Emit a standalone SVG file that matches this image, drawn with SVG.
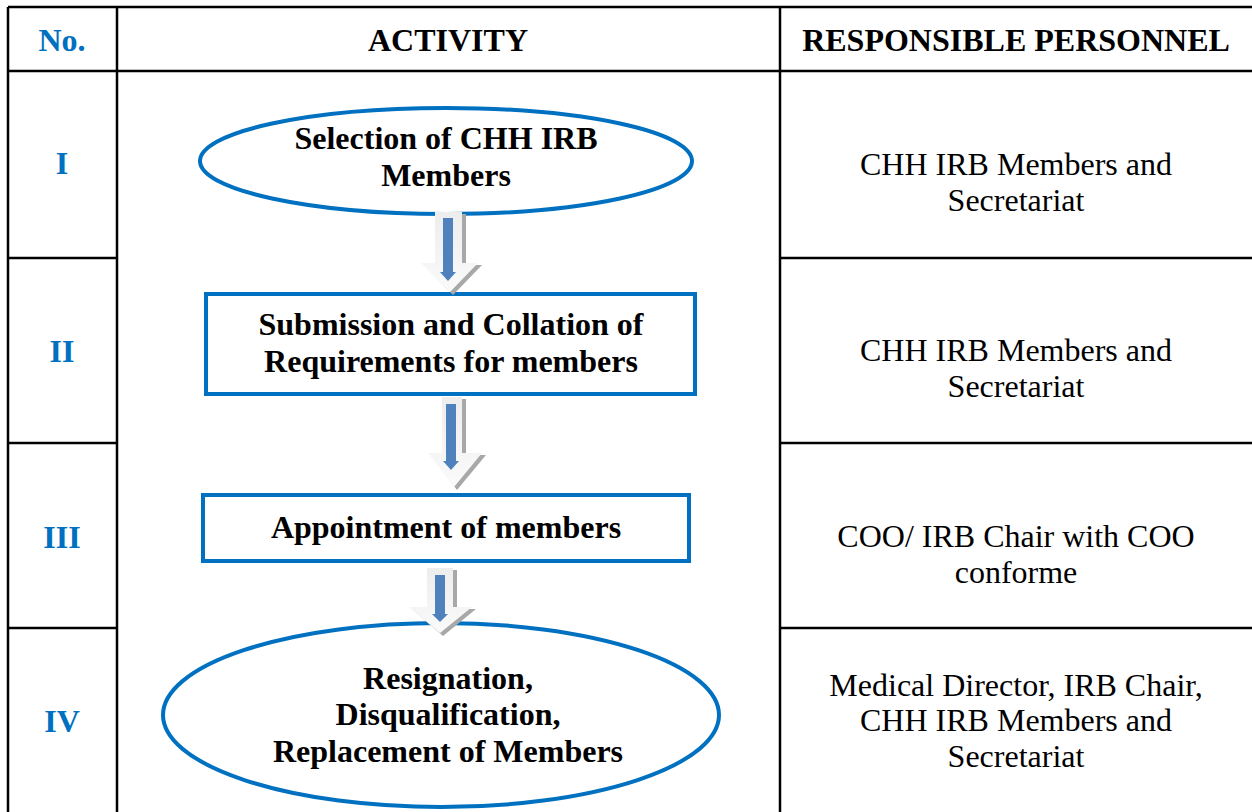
<svg xmlns="http://www.w3.org/2000/svg" width="1252" height="812" viewBox="0 0 1252 812">
  <style>
    text { font-family: 'Liberation Serif', 'DejaVu Serif', serif; font-size: 32px; text-anchor: middle; }
    .grid { stroke: #000; stroke-width: 2.5; fill: none; }
    .hdr { font-weight: bold; fill: #000; }
    .num { font-weight: bold; fill: #0070C0; }
    .act { font-weight: bold; fill: #000; }
    .per { fill: #000; }
    .shape { fill: #fff; stroke: #0070C0; stroke-width: 4; }
    .arr-shadow { fill: #A8A8A8; }
    .arr-body { fill: url(#arrFill); }
    .arr-core { fill: #4F81BD; }
  </style>
  <defs>
    <linearGradient id="arrFill" x1="0" y1="0" x2="0" y2="1">
      <stop offset="0" stop-color="#EDEDED"/>
      <stop offset="1" stop-color="#FAFAFA"/>
    </linearGradient>
  </defs>

  <rect x="0" y="0" width="1252" height="812" fill="#fff"/>

  <!-- table grid -->
  <g id="table">
    <line class="grid" x1="8" y1="7" x2="1252" y2="7"/>
    <line class="grid" x1="8" y1="71" x2="1252" y2="71"/>
    <line class="grid" x1="8" y1="7" x2="8" y2="812"/>
    <line class="grid" x1="117" y1="7" x2="117" y2="812"/>
    <line class="grid" x1="780" y1="7" x2="780" y2="812"/>
    <line class="grid" x1="8" y1="258" x2="117" y2="258"/>
    <line class="grid" x1="8" y1="443" x2="117" y2="443"/>
    <line class="grid" x1="8" y1="628" x2="117" y2="628"/>
    <line class="grid" x1="780" y1="258" x2="1252" y2="258"/>
    <line class="grid" x1="780" y1="443" x2="1252" y2="443"/>
    <line class="grid" x1="780" y1="628" x2="1252" y2="628"/>
  </g>

  <!-- header row -->
  <g id="header">
    <text class="num" x="62" y="51">No.</text>
    <text class="hdr" x="448" y="51">ACTIVITY</text>
    <text class="hdr" x="1016" y="51">RESPONSIBLE PERSONNEL</text>
  </g>

  <!-- step numbers -->
  <g id="numbers">
    <text class="num" x="62" y="174">I</text>
    <text class="num" x="62" y="362">II</text>
    <text class="num" x="62" y="548">III</text>
    <text class="num" x="62" y="732">IV</text>
  </g>

  <!-- responsible personnel -->
  <g id="personnel">
    <text class="per" x="1016" y="175">CHH IRB Members and</text>
    <text class="per" x="1016" y="211">Secretariat</text>
    <text class="per" x="1016" y="361">CHH IRB Members and</text>
    <text class="per" x="1016" y="397">Secretariat</text>
    <text class="per" x="1016" y="547">COO/ IRB Chair with COO</text>
    <text class="per" x="1016" y="583">conforme</text>
    <text class="per" x="1016" y="696">Medical Director, IRB Chair,</text>
    <text class="per" x="1016" y="731">CHH IRB Members and</text>
    <text class="per" x="1016" y="767">Secretariat</text>
  </g>

  <!-- flow nodes -->
  <g id="node1">
    <ellipse class="shape" cx="446" cy="161" rx="246" ry="53"/>
    <text class="act" x="446" y="149">Selection of CHH IRB</text>
    <text class="act" x="446" y="186">Members</text>
  </g>
  <g id="node2">
    <rect class="shape" x="206" y="294" width="489" height="100"/>
    <text class="act" x="451" y="335">Submission and Collation of</text>
    <text class="act" x="451" y="372">Requirements for members</text>
  </g>
  <g id="node3">
    <rect class="shape" x="203" y="495" width="486" height="66"/>
    <text class="act" x="446" y="538">Appointment of members</text>
  </g>
  <g id="node4">
    <ellipse class="shape" cx="441" cy="715" rx="278" ry="92"/>
    <text class="act" x="448" y="689">Resignation,</text>
    <text class="act" x="448" y="725">Disqualification,</text>
    <text class="act" x="448" y="762">Replacement of Members</text>
  </g>

  <!-- connectors: 3D block arrows -->
  <g id="connectors">
    <g id="arrow1">
      <path class="arr-shadow" d="M438 214 H466 V265 H482 L453 295 L424 265 H438 Z"/>
      <path class="arr-body" d="M435 212 H462 V263 H478 L450 292 L421 263 H435 Z"/>
      <path class="arr-core" d="M443 218 H453 V272 H456 L448 281 L440 272 H443 Z"/>
    </g>
    <g id="arrow2">
      <path class="arr-shadow" d="M445 399 H466 V455 H486 L457 490 L431 455 H445 Z"/>
      <path class="arr-body" d="M442 397 H462 V453 H482 L454 487 L428 453 H442 Z"/>
      <path class="arr-core" d="M446 404 H456 V461 H459 L451 470 L443 461 H446 Z"/>
    </g>
    <g id="arrow3">
      <path class="arr-shadow" d="M430 570 H457 V609 H476 L443 636 L412 609 H430 Z"/>
      <path class="arr-body" d="M427 568 H453 V607 H472 L440 633 L409 607 H427 Z"/>
      <path class="arr-core" d="M435 575 H445 V614 H448 L440 622 L432 614 H435 Z"/>
    </g>
  </g>
</svg>
